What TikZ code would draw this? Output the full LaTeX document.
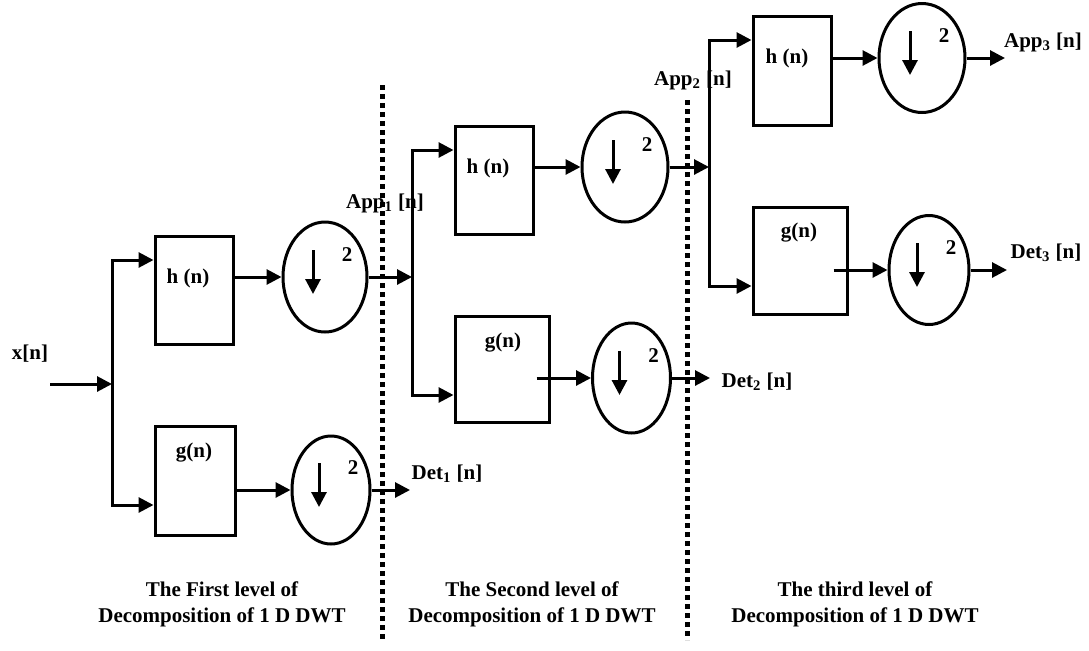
\documentclass[tikz,border=0pt]{standalone}
\usepackage{fontspec}
\setmainfont{Liberation Serif}
\usetikzlibrary{calc,arrows.meta,shapes.geometric}

\begin{document}
\begin{tikzpicture}[x=0.5pt, y=-0.5pt, font=\fontsize{10.5}{13}\selectfont\bfseries,
    arr/.style={line width=1.5pt, -{Triangle[length=7.5pt,width=7.5pt]}},
    wire/.style={line width=1.5pt, line cap=rect},
    filt/.style={draw, line width=1.5pt, inner sep=0pt},
    dsamp/.style={draw, ellipse, line width=1.5pt, inner sep=0pt},
    cut/.style={line width=2.5pt, dash pattern=on 2.5pt off 2pt},
    lbl/.style={inner sep=0pt}]
  \useasboundingbox (0,0) rectangle (1089,650);

  % downsampler: name, x, y, width, height
  \newcommand{\downblock}[5]{%
    \node[dsamp, minimum width=#4, minimum height=#5] (#1) at (#2,#3) {};
    \draw[arr] ($(#1)+(-12,-27)$) -- ($(#1)+(-12,17)$);
    \node[lbl] (#1n) at ($(#1)+(22,-22)$) {2};
  }

  % level 1
  \node[lbl] (xn) at (30,354) {x[n]};
  \coordinate (xin) at (50,384);
  \coordinate (s1in) at (112,384);
  \coordinate (s1top) at (112,260);
  \coordinate (s1bot) at (112,505);
  \node[filt, minimum width=39pt, minimum height=54pt] (h1) at (194,290) {};
  \node[lbl] (h1lab) at (188,278) {h (n)};
  \node[filt, minimum width=40pt, minimum height=54.5pt] (g1) at (195,480.5) {};
  \node[lbl] (g1lab) at (194,453) {g(n)};
  \downblock{e1a}{325}{277}{42pt}{55pt}
  \downblock{e1b}{331}{490}{39pt}{54pt}

  % level 2
  \coordinate (s2in) at (412,277);
  \coordinate (s2top) at (412,150);
  \coordinate (s2bot) at (412,395);
  \node[lbl] (app1) at (385,203) {App\textsubscript{1} [n]};
  \coordinate (d1end) at (410,490);
  \node[lbl] (det1) at (447,474) {Det\textsubscript{1} [n]};
  \node[filt, minimum width=39pt, minimum height=54pt] (h2) at (494,180) {};
  \node[lbl] (h2lab) at (488,168) {h (n)};
  \node[filt, minimum width=47pt, minimum height=53pt] (g2) at (502,369) {};
  \node[lbl] (g2lab) at (503,343) {g(n)};
  \downblock{e2a}{625}{167}{43pt}{55pt}
  \downblock{e2b}{631.5}{378}{39pt}{55pt}

  % level 3
  \coordinate (s3in) at (709,167);
  \coordinate (s3top) at (709,40);
  \coordinate (s3bot) at (709,286);
  \node[lbl] (app2) at (693,80) {App\textsubscript{2} [n]};
  \coordinate (d2end) at (710,378);
  \node[lbl] (det2) at (757,382) {Det\textsubscript{2} [n]};
  \node[filt, minimum width=39pt, minimum height=54.5pt] (h3) at (792,70.5) {};
  \node[lbl] (h3lab) at (787,58) {h (n)};
  \node[filt, minimum width=47pt, minimum height=53.5pt] (g3) at (800,260.5) {};
  \node[lbl] (g3lab) at (799,233) {g(n)};
  \downblock{e3a}{922}{58}{43pt}{54.5pt}
  \downblock{e3b}{929}{270}{40pt}{54.5pt}
  \coordinate (a3end) at (1005,58);
  \node[lbl] (app3) at (1043,42) {App\textsubscript{3} [n]};
  \coordinate (d3end) at (1007,270);
  \node[lbl] (det3) at (1046,253) {Det\textsubscript{3} [n]};

  % connectors
  \draw[arr] (xin) -- (s1in);
  \draw[wire] (s1top) -- (s1bot);
  \draw[arr] (s1top) -- (s1top -| h1.west);
  \draw[arr] (s1bot) -- (s1bot -| g1.west);
  \draw[arr] (h1.east |- e1a) -- (e1a);
  \draw[arr] (g1.east |- e1b) -- (e1b);
  \draw[arr] (e1a) -- (s2in);
  \draw[arr] (e1b) -- (d1end);

  \draw[wire] (s2top) -- (s2bot);
  \draw[arr] (s2top) -- (s2top -| h2.west);
  \draw[arr] (s2bot) -- (s2bot -| g2.west);
  \draw[arr] (h2.east |- e2a) -- (e2a);
  \draw[arr] ([xshift=-7pt]g2.east |- e2b) -- (e2b);
  \draw[arr] (e2a) -- (s3in);
  \draw[arr] (e2b) -- (d2end);

  \draw[wire] (s3top) -- (s3bot);
  \draw[arr] (s3top) -- (s3top -| h3.west);
  \draw[arr] (s3bot) -- (s3bot -| g3.west);
  \draw[arr] (h3.east |- e3a) -- (e3a);
  \draw[arr] ([xshift=-7.5pt]g3.east |- e3b) -- (e3b);
  \draw[arr] (e3a) -- (a3end);
  \draw[arr] (e3b) -- (d3end);

  % level captions
  \node[lbl, align=center] (cap1) at (222,604) {The First level of\\Decomposition of 1 D DWT};
  \node[lbl, align=center] (cap2) at (532,604) {The Second level of\\Decomposition of 1 D DWT};
  \node[lbl, align=center] (cap3) at (855,604) {The third level of\\Decomposition of 1 D DWT};

  % level boundaries
  \coordinate (cut1top) at (382,85);
  \coordinate (cut1bot) at (382,640);
  \coordinate (cut2top) at (687,100);
  \coordinate (cut2bot) at (687,640);
  \draw[cut] (cut1top) -- (cut1bot);
  \draw[cut] (cut2top) -- (cut2bot);
\end{tikzpicture}
\end{document}
